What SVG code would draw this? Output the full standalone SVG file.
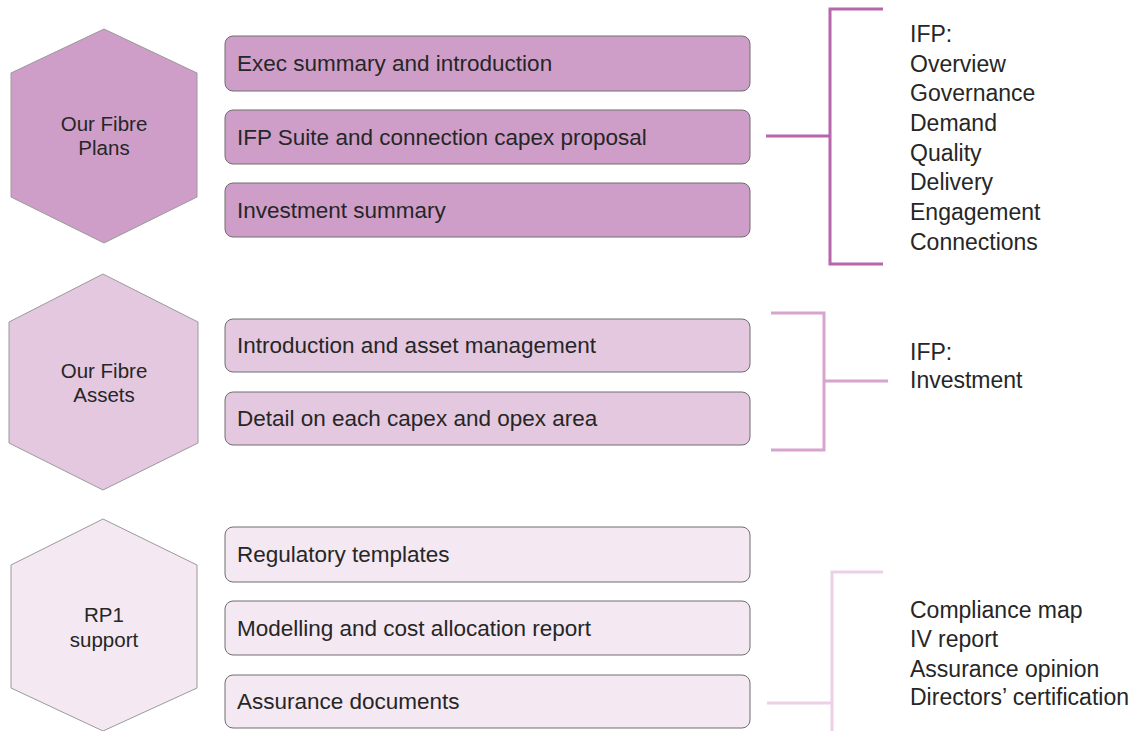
<svg xmlns="http://www.w3.org/2000/svg" width="1140" height="731" viewBox="0 0 1140 731">
<style>
text{font-family:"Liberation Sans",Arial,sans-serif;fill:#262626}
.hx{font-size:20.5px;text-anchor:middle}
.bt{font-size:22.5px}
.rt{font-size:23px}
.hex{stroke:#9a9a9a;stroke-width:1}
.box{stroke:#6e6e6e;stroke-width:1}
.c1{fill:#CE9EC9}.c2{fill:#E3C8E0}.c3{fill:#F4E8F2}
.br{fill:none;stroke-width:3}
</style>
<rect width="1140" height="731" fill="#fff"/>
<g id="hex-plans"><polygon class="hex c1" points="104,29 197,73 197,197 104,243 11,197 11,73"/><text class="hx" x="104" y="131">Our Fibre</text><text class="hx" x="104" y="155">Plans</text></g>
<g id="hex-assets"><polygon class="hex c2" points="103,274 198,322 198,443 103,490 9,443 9,322"/><text class="hx" x="104" y="378">Our Fibre</text><text class="hx" x="104" y="402">Assets</text></g>
<g id="hex-rp1"><polygon class="hex c3" points="103,519 197,565 197,688 103,731 11,688 11,565"/><text class="hx" x="104" y="622">RP1</text><text class="hx" x="104" y="647">support</text></g>
<g id="box-exec"><rect class="box c1" x="225" y="36" width="525" height="55" rx="8"/><text class="bt" x="237" y="71">Exec summary and introduction</text></g>
<g id="box-ifp"><rect class="box c1" x="225" y="110" width="525" height="54" rx="8"/><text class="bt" x="237" y="145">IFP Suite and connection capex proposal</text></g>
<g id="box-invsum"><rect class="box c1" x="225" y="183" width="525" height="54" rx="8"/><text class="bt" x="237" y="218">Investment summary</text></g>
<g id="box-intro"><rect class="box c2" x="225" y="319" width="525" height="53" rx="8"/><text class="bt" x="237" y="353">Introduction and asset management</text></g>
<g id="box-detail"><rect class="box c2" x="225" y="392" width="525" height="53" rx="8"/><text class="bt" x="237" y="426">Detail on each capex and opex area</text></g>
<g id="box-reg"><rect class="box c3" x="225" y="527" width="525" height="55" rx="8"/><text class="bt" x="237" y="562">Regulatory templates</text></g>
<g id="box-model"><rect class="box c3" x="225" y="601" width="525" height="54" rx="8"/><text class="bt" x="237" y="636">Modelling and cost allocation report</text></g>
<g id="box-assur"><rect class="box c3" x="225" y="675" width="525" height="53" rx="8"/><text class="bt" x="237" y="709">Assurance documents</text></g>
<g id="connectors">
<path class="br" stroke="#B766AB" d="M883,9 H830 V264 H883 M766,136 H830"/>
<path class="br" stroke="#D6A4CE" d="M771,313 H824 V450 H771 M824,381 H888"/>
<path class="br" stroke="#ECD0E8" d="M883,572 H832 V731 M767,703 H832"/>
</g>
<g id="list-plans"><text class="rt" x="910" y="42">IFP:</text><text class="rt" x="910" y="71.5">Overview</text><text class="rt" x="910" y="101">Governance</text><text class="rt" x="910" y="131">Demand</text><text class="rt" x="910" y="160.5">Quality</text><text class="rt" x="910" y="190">Delivery</text><text class="rt" x="910" y="220">Engagement</text><text class="rt" x="910" y="249.5">Connections</text></g>
<g id="list-assets"><text class="rt" x="910" y="360">IFP:</text><text class="rt" x="910" y="388">Investment</text></g>
<g id="list-rp1"><text class="rt" x="910" y="618">Compliance map</text><text class="rt" x="910" y="647">IV report</text><text class="rt" x="910" y="677">Assurance opinion</text><text class="rt" x="910" y="705">Directors’ certification</text></g>
</svg>
